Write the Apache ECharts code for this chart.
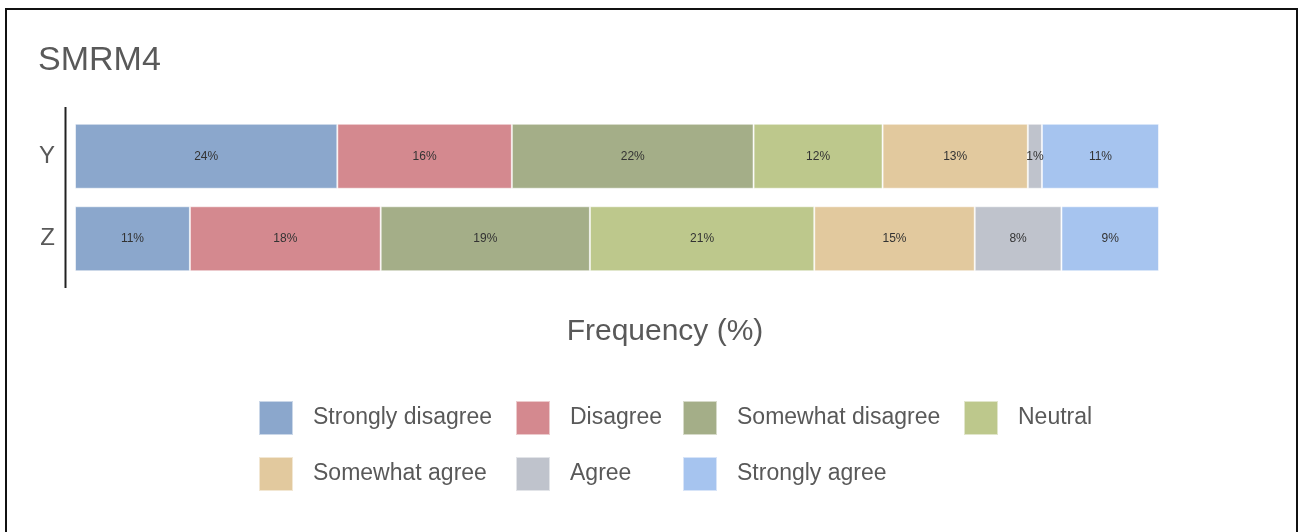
<!DOCTYPE html>
<html>
<head>
<meta charset="utf-8">
<script src="https://cdn.jsdelivr.net/npm/echarts@6/dist/echarts.min.js"></script>
<style>
  html, body { margin: 0; padding: 0; background: #fff; }
  #chart { width: 1300px; height: 532px; }
</style>
</head>
<body>
<div id="chart"></div>
<script>
// Response groups (rows of the stacked bar)
const groups = ['Y', 'Z'];

// Likert levels, in stacking order
const levels = ['Strongly disagree', 'Disagree', 'Somewhat disagree', 'Neutral',
                'Somewhat agree', 'Agree', 'Strongly agree'];

// Share of responses per level (%), one array per group
const shareY = [24.2, 16.1, 22.3, 11.9, 13.4, 1.3, 10.8];
const shareZ = [10.6, 17.6, 19.3, 20.7, 14.8, 8.0, 9.0];

const levelColors = ['#8ba7cc', '#d4898f', '#a4ae88', '#bdc88c', '#e2c99e', '#bfc3cc', '#a6c4ef'];

// Legend laid out as aligned columns
const legendColumns = [
  { left: 253, names: ['Strongly disagree', 'Somewhat agree'] },
  { left: 510, names: ['Disagree', 'Agree'] },
  { left: 677, names: ['Somewhat disagree', 'Strongly agree'] },
  { left: 958, names: ['Neutral'] }
];

const FONT = 'Liberation Sans, Arial, sans-serif';

const series = levels.map((name, i) => ({
  name: name,
  type: 'bar',
  stack: 'total',
  barWidth: 65,
  data: [shareY[i], shareZ[i]],
  itemStyle: {
    color: levelColors[i],
    borderColor: 'rgba(255,255,255,0.55)',
    borderWidth: 1
  },
  label: {
    show: true,
    position: 'inside',
    color: '#333',
    fontFamily: FONT,
    fontSize: 12,
    formatter: p => Math.round(p.value) + '%'
  },
  emphasis: { disabled: true }
}));

const legends = legendColumns.map(col => ({
  orient: 'vertical',
  left: col.left,
  top: 395,
  data: col.names,
  icon: 'rect',
  itemWidth: 34,
  itemHeight: 34,
  itemGap: 20,
  selectedMode: false,
  textStyle: {
    color: '#595959',
    fontFamily: FONT,
    fontSize: 23,
    padding: [0, 0, 0, 15]
  }
}));

const chart = echarts.init(document.getElementById('chart'), null, { renderer: 'canvas' });

chart.setOption({
  animation: false,
  backgroundColor: '#fff',
  title: {
    text: 'SMRM4',
    left: 33,
    top: 39,
    textStyle: { color: '#595959', fontFamily: FONT, fontSize: 34, fontWeight: 'normal' }
  },
  legend: legends,
  grid: { left: 75, right: 141, top: 115, height: 165 },
  xAxis: {
    type: 'value',
    min: 0,
    max: 100,
    show: false
  },
  yAxis: {
    type: 'category',
    data: groups,
    inverse: true,
    axisLine: { show: false },
    axisTick: { show: false },
    axisLabel: { color: '#595959', fontFamily: FONT, fontSize: 24, margin: 20 }
  },
  series: series,
  graphic: [
    // frame around the figure (open at the bottom)
    {
      type: 'polyline',
      shape: { points: [[6, 532], [6, 9], [1297, 9], [1297, 532]] },
      style: { stroke: '#111', lineWidth: 2, fill: null },
      silent: true
    },
    // vertical category axis line
    {
      type: 'line',
      shape: { x1: 65.5, y1: 107, x2: 65.5, y2: 288 },
      style: { stroke: '#222', lineWidth: 2 },
      silent: true
    },
    // value-axis title
    {
      type: 'text',
      x: 665,
      y: 332,
      style: {
        text: 'Frequency (%)',
        fill: '#595959',
        font: '30px ' + FONT,
        textAlign: 'center',
        textVerticalAlign: 'middle'
      },
      silent: true
    }
  ]
});
</script>
</body>
</html>
